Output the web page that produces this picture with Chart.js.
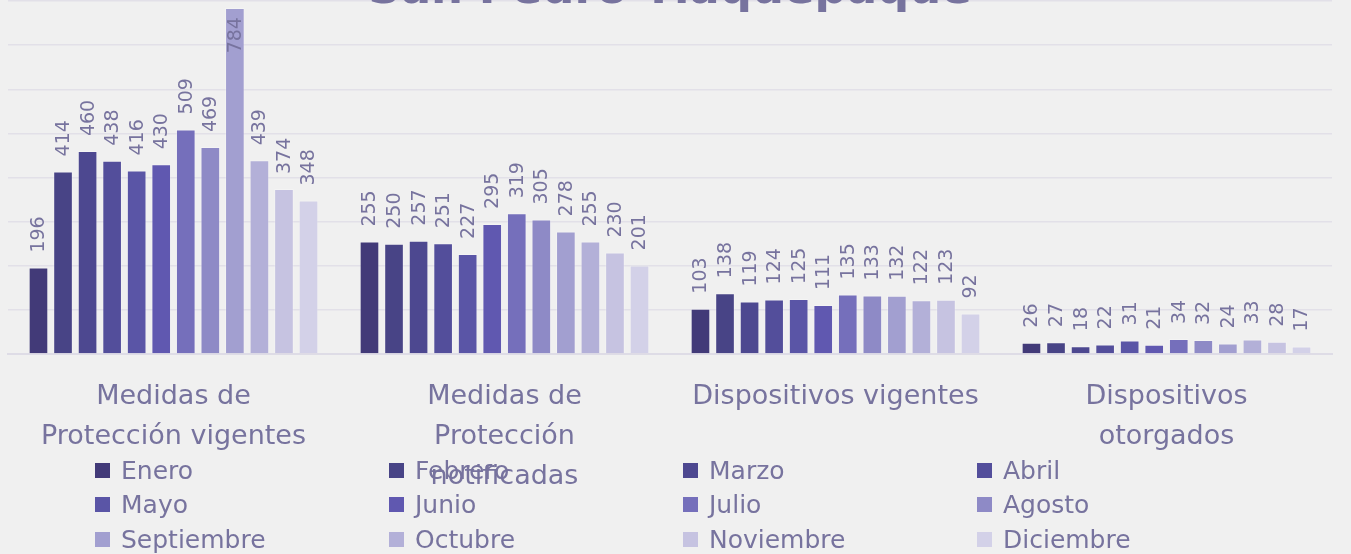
<!DOCTYPE html>
<html>
<head>
<meta charset="utf-8">
<script src="https://cdn.jsdelivr.net/npm/chart.js@4/dist/chart.umd.min.js"></script>
<style>
    body { margin: 0; background: #f0f0f0; overflow: hidden; width: 1351px; height: 554px; position: relative; }
    .grafica { position: absolute; top: -36px; left: 0; width: 1351px; height: 590px; }
    .leyenda { position: absolute; left: 95px; top: 455px; display: grid; grid-template-columns: repeat(4, 294px); row-gap: 4px;
        font-family: "DejaVu Sans", sans-serif; font-size: 25px; color: #77739e; }
    .leyenda div { display: flex; align-items: center; height: 30.5px; white-space: nowrap; }
    .leyenda span { display: inline-block; width: 15px; height: 15px; margin-right: 11px; }
</style>
</head>
<body>
<div class="grafica"><canvas id="grafica"></canvas></div>
<div class="leyenda" id="leyenda"></div>
<script>
let categorias = [
    ["Medidas de", "Protección vigentes"],
    ["Medidas de", "Protección", "notificadas"],
    ["Dispositivos vigentes"],
    ["Dispositivos", "otorgados"]
];
let meses = ["Enero", "Febrero", "Marzo", "Abril", "Mayo", "Junio", "Julio", "Agosto",
    "Septiembre", "Octubre", "Noviembre", "Diciembre"];

// valores por categoría, de enero a diciembre
let medidasVigentes = [196, 414, 460, 438, 416, 430, 509, 469, 784, 439, 374, 348];
let medidasNotificadas = [255, 250, 257, 251, 227, 295, 319, 305, 278, 255, 230, 201];
let dispositivosVigentes = [103, 138, 119, 124, 125, 111, 135, 133, 132, 122, 123, 92];
let dispositivosOtorgados = [26, 27, 18, 22, 31, 21, 34, 32, 24, 33, 28, 17];

let colores = ["#423a78", "#484486", "#4d4890", "#534e9b", "#5a55a6", "#6058b0",
    "#756fbb", "#8e8ac6", "#a29fd0", "#b3b0d8", "#c6c3e1", "#d3d1e8"];

let colorTexto = "#77739e";
let fuente = "'DejaVu Sans', sans-serif";

let etiquetas = {
    id: "etiquetas",
    afterDatasetsDraw(chart) {
        let ctx = chart.ctx;
        let area = chart.chartArea;
        ctx.save();
        ctx.font = "19px " + fuente;
        ctx.fillStyle = colorTexto;
        ctx.textBaseline = "middle";
        chart.data.datasets.forEach((ds, i) => {
            chart.getDatasetMeta(i).data.forEach((barra, j) => {
                let texto = String(ds.data[j]);
                let ancho = ctx.measureText(texto).width;
                ctx.save();
                if (barra.y - 15 - ancho < area.top) {
                    // no cabe arriba, va dentro de la barra
                    ctx.translate(barra.x + 1, barra.y + 9);
                    ctx.rotate(-Math.PI / 2);
                    ctx.textAlign = "right";
                } else {
                    ctx.translate(barra.x + 1, barra.y - 15);
                    ctx.rotate(-Math.PI / 2);
                    ctx.textAlign = "left";
                }
                ctx.fillText(texto, 0, 0);
                ctx.restore();
            });
        });
        ctx.restore();
    }
};

document.addEventListener("DOMContentLoaded", iniciar);

function iniciar() {
    let canvas = document.getElementById("grafica");
    let series = [medidasVigentes, medidasNotificadas, dispositivosVigentes, dispositivosOtorgados];

    let datasets = meses.map((mes, i) => ({
        label: mes,
        data: series.map(s => s[i]),
        backgroundColor: colores[i],
        borderColor: "rgba(255,255,255,0.25)",
        borderWidth: 1,
        categoryPercentage: 0.89,
        barPercentage: 0.8
    }));

    new Chart(canvas, {
        type: "bar",
        data: { labels: categorias, datasets: datasets },
        options: {
            responsive: true,
            maintainAspectRatio: false,
            animation: false,
            layout: { padding: { left: 8, right: 19, top: 0, bottom: 34 } },
            plugins: {
                legend: { display: false },
                tooltip: { enabled: false },
                title: {
                    display: true,
                    text: "San Pedro Tlaquepaque",
                    color: colorTexto,
                    font: { family: fuente, size: 45, weight: "bold", lineHeight: 1.2 },
                    padding: { top: 0, bottom: -17 }
                }
            },
            scales: {
                x: {
                    grid: { display: false, drawTicks: false },
                    border: { display: true, color: "#dedce6", width: 2 },
                    ticks: {
                        color: colorTexto,
                        font: { family: fuente, size: 27, lineHeight: 1.48 },
                        padding: 23,
                        maxRotation: 0,
                        autoSkip: false
                    }
                },
                y: {
                    min: 0,
                    max: 800,
                    ticks: { display: false, stepSize: 100 },
                    grid: { color: "#e2e0e8", lineWidth: 1.5, drawTicks: false },
                    border: { display: false }
                }
            }
        },
        plugins: [etiquetas]
    });

    let leyenda = document.getElementById("leyenda");
    meses.forEach((mes, i) => {
        let item = document.createElement("div");
        item.innerHTML = '<span style="background:' + colores[i] + '"></span>' + mes;
        leyenda.appendChild(item);
    });
}
</script>
</body>
</html>
